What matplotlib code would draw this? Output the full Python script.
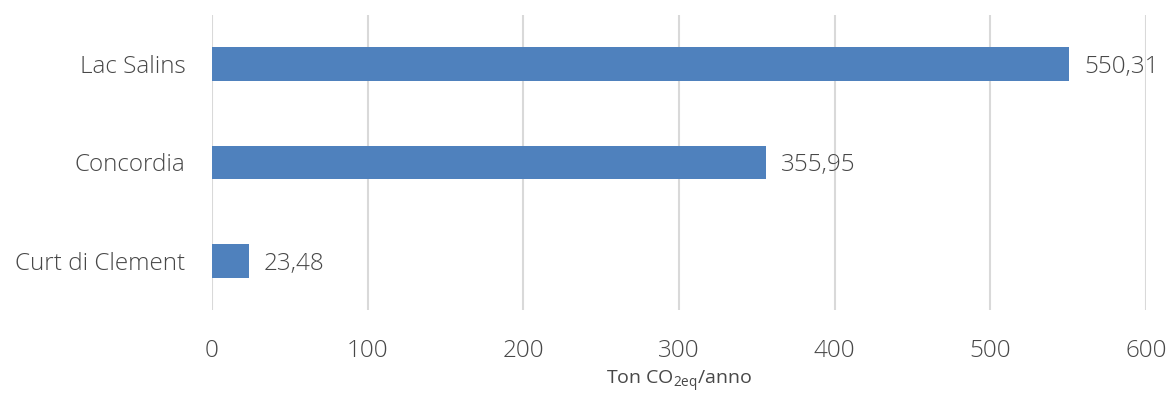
import matplotlib.pyplot as plt

categories = ['Curt di Clement', 'Concordia', 'Lac Salins']
values = [23.48, 355.95, 550.31]
x_ticks = [0, 100, 200, 300, 400, 500, 600]

plt.rcParams['font.family'] = ['Open Sans', 'DejaVu Sans']
plt.rcParams['font.weight'] = 'light'
plt.rcParams['mathtext.fontset'] = 'custom'
plt.rcParams['mathtext.rm'] = 'Open Sans:light'

grey_txt = '#484848'
grid_c = '#d9d9d9'
bar_c = '#4f81bd'

fig = plt.figure(figsize=(11.7, 3.99), dpi=100)
ax = fig.add_axes([0.1812, 0.2231, 0.9795 - 0.1812, 0.9624 - 0.2231])

ypos = range(len(categories))
ax.barh(ypos, values, height=0.345, color=bar_c, zorder=3)

for y, v in zip(ypos, values):
    ax.annotate(f'{v:.2f}'.replace('.', ','), (v, y), xytext=(11, -2),
                textcoords='offset points', va='center', ha='left',
                fontsize=17.5, color=grey_txt, fontweight='light')

ax.set_xlim(0, 600)
ax.set_ylim(-0.5, 2.5)
ax.set_xticks(x_ticks)
ax.set_xticklabels([str(t) for t in x_ticks])
ax.set_yticks(list(ypos))
ax.set_yticklabels(categories)
ax.tick_params(axis='both', length=0, labelsize=17.5, labelcolor=grey_txt)
ax.tick_params(axis='x', pad=21)
ax.tick_params(axis='y', pad=19)

ax.grid(axis='x', color=grid_c, linewidth=1.5, zorder=0)
for s in ['top', 'right', 'bottom', 'left']:
    ax.spines[s].set_visible(False)

ax.set_xlabel(r'Ton CO$_{\mathregular{2eq}}$/anno', fontsize=14,
              color=grey_txt, labelpad=4)

fig.savefig('out.png', dpi=100)
